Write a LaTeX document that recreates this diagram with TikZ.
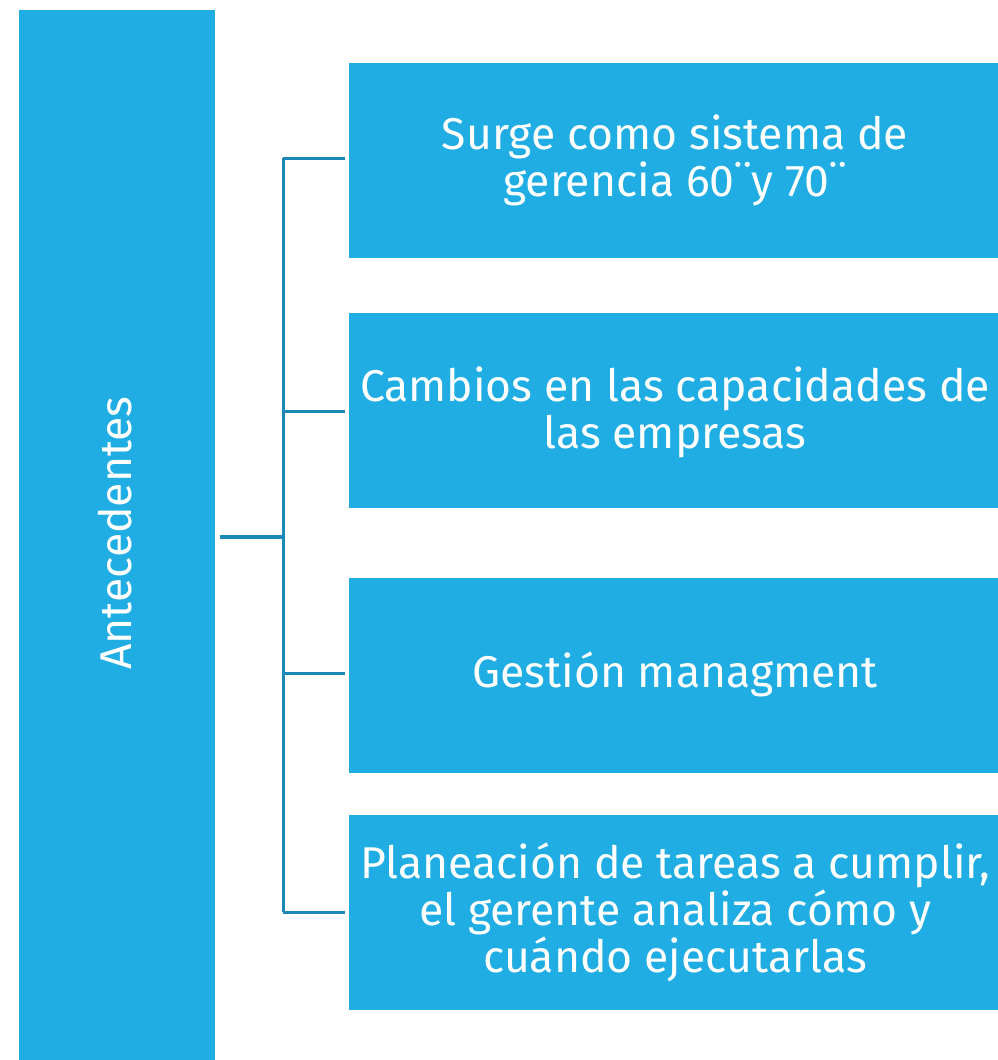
\documentclass[tikz,border=0pt]{standalone}
\usepackage{fontspec}
\setmainfont{Fira Sans}
\definecolor{boxblue}{HTML}{1FADE4}
\definecolor{linkblue}{HTML}{1B88B8}
\begin{document}
\begin{tikzpicture}[x=1pt,y=-1pt,
  bluebox/.style={fill=boxblue,draw=none,inner sep=0pt,text=white,align=center,
    font=\fontsize{44.5}{47}\selectfont},
  link/.style={draw=linkblue,line width=3pt}]
\useasboundingbox (0,0) rectangle (998,1060);
\node[bluebox,minimum width=196pt,minimum height=1050pt,anchor=north west] (ante) at (19,10) {};
\node[text=white,rotate=90,font=\fontsize{44.5}{47}\selectfont] (antet) at (115,533) {Antecedentes};
\node[bluebox,minimum width=660pt,minimum height=195pt,anchor=north west] (b1) at (349,63) {};
\node[bluebox,minimum width=660pt,minimum height=195pt,anchor=north west] (b2) at (349,313) {};
\node[bluebox,minimum width=660pt,minimum height=195pt,anchor=north west] (b3) at (349,578) {};
\node[bluebox,minimum width=660pt,minimum height=195pt,anchor=north west] (b4) at (349,815) {};
\node[bluebox,fill=none] (t1) at (675,160) {Surge como sistema de\\gerencia 60¨y 70¨};
\node[bluebox,fill=none] (t2) at (675,412) {Cambios en las capacidades de\\las empresas};
\node[bluebox,fill=none] (t3) at (675,674) {Gestión managment};
\node[bluebox,fill=none] (t4) at (675,912) {Planeación de tareas a cumplir,\\el gerente analiza cómo y\\cuándo ejecutarlas};
\coordinate (hub) at (283,537);
\coordinate (top) at (283,158);
\coordinate (bot) at (283,912);
\draw[link,line width=4pt] (ante.east |- hub) ++(5,0) -- (hub);
\draw[link] (top) -- (bot);
\draw[link] (top) -- ([xshift=-4pt]b1.west |- top);
\draw[link] (283,411) -- ([xshift=-4pt]b2.west |- 0,411);
\draw[link] (283,673) -- ([xshift=-4pt]b3.west |- 0,673);
\draw[link] (bot) -- ([xshift=-4pt]b4.west |- bot);
\end{tikzpicture}
\end{document}
